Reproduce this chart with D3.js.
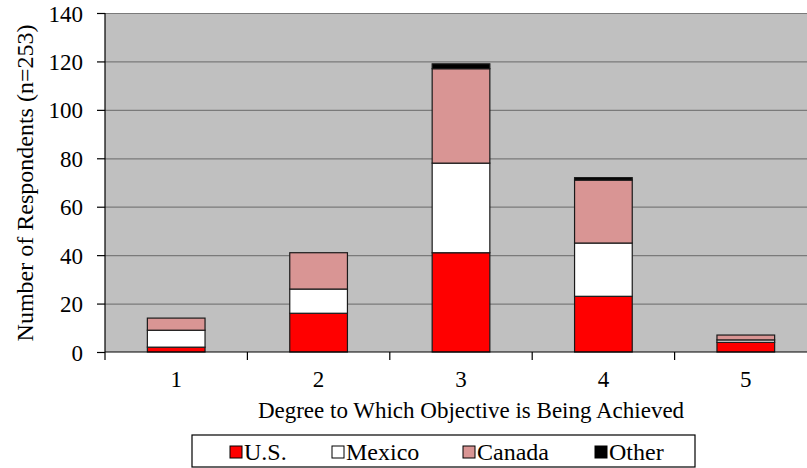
<!DOCTYPE html>
<html>
<head>
<meta charset="utf-8">
<script src="https://cdn.jsdelivr.net/npm/d3@7"></script>
<style>
  html, body { margin: 0; padding: 0; background: #ffffff; }
  svg { display: block; }
</style>
</head>
<body>
<svg id="chart" width="807" height="468"></svg>
<script>
// Responses per degree, split by country
const categories = ["1", "2", "3", "4", "5"];
const seriesNames = ["U.S.", "Mexico", "Canada", "Other"];
const usValues     = [2, 16, 41, 23, 4];
const mexicoValues = [7, 10, 37, 22, 1];
const canadaValues = [5, 15, 39, 26, 2];
const otherValues  = [0, 0, 2, 1, 0];
const yTicks = [0, 20, 40, 60, 80, 100, 120, 140];
const seriesColors = ["#ff0000", "#ffffff", "#d99594", "#000000"];

const FONT = "Liberation Serif, DejaVu Serif, serif";

const rows = categories.map((c, i) => ({
  cat: c,
  "U.S.": usValues[i],
  "Mexico": mexicoValues[i],
  "Canada": canadaValues[i],
  "Other": otherValues[i]
}));

const svg = d3.select("#chart");
const plot = { left: 105, right: 817, top: 13, bottom: 352 };

const x = d3.scaleBand().domain(categories).range([plot.left, plot.right]).paddingInner(0).paddingOuter(0);
const y = d3.scaleLinear().domain([0, 140]).range([plot.bottom, plot.top]);
const color = d3.scaleOrdinal().domain(seriesNames).range(seriesColors);

function label(sel, size) {
  return sel.attr("font-family", FONT).style("font-family", FONT)
    .style("font-size", size + "px").attr("fill", "#000");
}

// plot background
svg.append("rect")
  .attr("x", plot.left).attr("y", plot.top)
  .attr("width", plot.right - plot.left).attr("height", plot.bottom - plot.top)
  .attr("fill", "#c0c0c0");

// horizontal gridlines
svg.append("g").selectAll("line")
  .data(yTicks.filter(t => t > 0))
  .join("line")
  .attr("x1", plot.left).attr("x2", plot.right)
  .attr("y1", d => y(d) + 0.5).attr("y2", d => y(d) + 0.5)
  .attr("stroke", "#7a7a7a").attr("stroke-width", 1.2);

// stacked bars
const stack = d3.stack().keys(seriesNames)(rows);
const barW = x.bandwidth() * 0.405;
svg.append("g").selectAll("g")
  .data(stack)
  .join("g")
  .attr("fill", d => color(d.key))
  .selectAll("rect")
  .data(d => d.filter(s => s[1] - s[0] > 0))
  .join("rect")
  .attr("x", d => x(d.data.cat) + (x.bandwidth() - barW) / 2)
  .attr("y", d => y(d[1]))
  .attr("width", barW)
  .attr("height", d => y(d[0]) - y(d[1]))
  .attr("stroke", "#1a1a1a").attr("stroke-width", 1.2);

// y axis
const yAxis = svg.append("g")
  .attr("transform", `translate(${plot.left},0)`)
  .call(d3.axisLeft(y).tickValues(yTicks).tickSize(8).tickPadding(14));
yAxis.attr("font-family", FONT);
label(yAxis.selectAll("text"), 23).attr("dy", "0.35em");
yAxis.selectAll("line, path").attr("stroke", "#000").attr("stroke-width", 1.2);
yAxis.select(".domain").attr("d", `M0,${plot.top}V${plot.bottom}`);

// x axis: ticks at category boundaries, labels at centres
const xAxis = svg.append("g").attr("transform", `translate(0,${plot.bottom})`);
xAxis.append("line")
  .attr("x1", plot.left).attr("x2", plot.right)
  .attr("y1", 0).attr("y2", 0)
  .attr("stroke", "#000").attr("stroke-width", 1.2);
const boundaries = categories.map(c => x(c));
xAxis.selectAll("line.tick")
  .data(boundaries)
  .join("line")
  .attr("class", "tick")
  .attr("x1", d => d).attr("x2", d => d)
  .attr("y1", 0).attr("y2", 8)
  .attr("stroke", "#000").attr("stroke-width", 1.2);
label(xAxis.selectAll("text")
  .data(categories)
  .join("text")
  .attr("x", d => x(d) + x.bandwidth() / 2)
  .attr("y", 35)
  .attr("text-anchor", "middle")
  .text(d => d), 23);

// axis titles
label(svg.append("text")
  .attr("x", 471).attr("y", 418)
  .attr("text-anchor", "middle")
  .text("Degree to Which Objective is Being Achieved"), 23);

label(svg.append("text")
  .attr("transform", "translate(33,183) rotate(-90)")
  .attr("text-anchor", "middle")
  .text("Number of Respondents (n=253)"), 24);

// legend
const legend = svg.append("g");
legend.append("rect")
  .attr("x", 192).attr("y", 435).attr("width", 503).attr("height", 32)
  .attr("fill", "#fff").attr("stroke", "#000").attr("stroke-width", 1.2);
const legendX = [230, 332, 463, 595];
const items = legend.selectAll("g.item")
  .data(seriesNames)
  .join("g")
  .attr("class", "item")
  .attr("transform", (d, i) => `translate(${legendX[i]},452)`);
items.append("rect")
  .attr("x", 0).attr("y", -6).attr("width", 12).attr("height", 12)
  .attr("fill", d => color(d)).attr("stroke", "#000").attr("stroke-width", 1);
label(items.append("text")
  .attr("x", 14).attr("y", 0).attr("dy", "0.35em")
  .text(d => d), 24);
</script>
</body>
</html>
